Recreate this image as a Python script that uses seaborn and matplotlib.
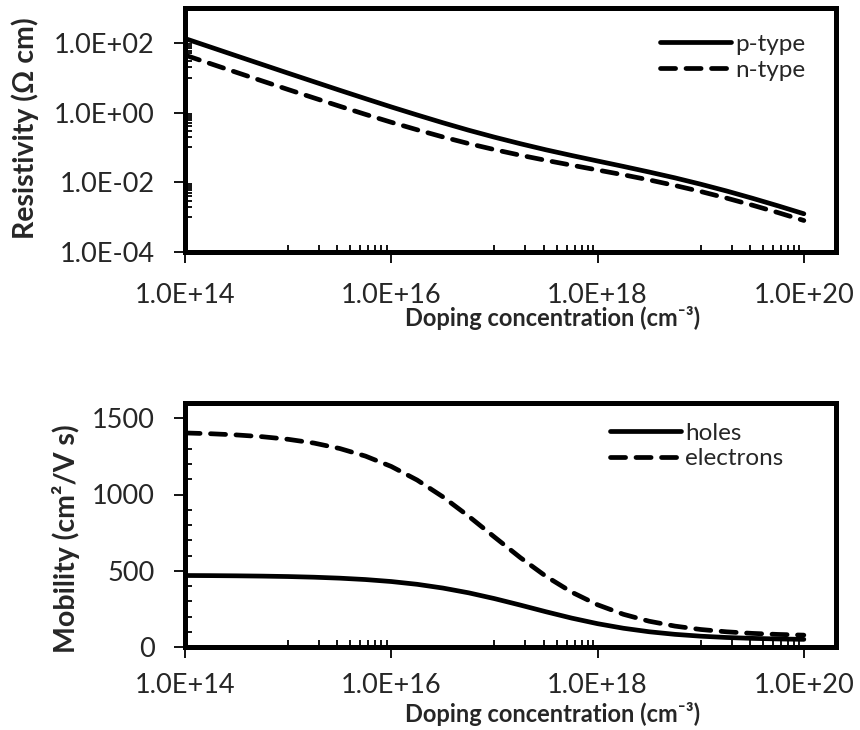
import numpy as np
import pandas as pd
import matplotlib
matplotlib.use("Agg")
import matplotlib.pyplot as plt
import seaborn as sns
from matplotlib.ticker import FixedLocator, FuncFormatter, NullFormatter

# ---- data ----
doping = [1e14, 1.78e14, 3.16e14, 5.62e14, 1e15, 1.78e15, 3.16e15, 5.62e15,
          1e16, 1.78e16, 3.16e16, 5.62e16, 1e17, 1.78e17, 3.16e17, 5.62e17,
          1e18, 1.78e18, 3.16e18, 5.62e18, 1e19, 1.78e19, 3.16e19, 5.62e19, 1e20]

rho_p = [133.1, 75.0, 42.3, 23.9, 13.5, 7.67, 4.37, 2.51,
         1.45, 0.854, 0.511, 0.312, 0.197, 0.128, 0.0854, 0.0586,
         0.0408, 0.0285, 0.0197, 0.0134, 0.00881, 0.00563, 0.00349, 0.00211, 0.00125]
rho_n = [44.5, 25.1, 14.2, 8.05, 4.58, 2.63, 1.52, 0.887,
         0.527, 0.321, 0.200, 0.129, 0.0866, 0.0598, 0.0426, 0.0309,
         0.0225, 0.0164, 0.0117, 0.00810, 0.00544, 0.00352, 0.00221, 0.00135, 0.000802]

mu_holes = [468.8, 468.0, 466.7, 464.8, 462.0, 457.7, 451.4, 442.3,
            429.3, 411.1, 386.6, 355.3, 317.4, 275.0, 231.1, 189.4,
            152.9, 123.0, 100.0, 83.0, 70.9, 62.4, 56.6, 52.7, 50.1]
mu_electrons = [1403.6, 1398.4, 1390.6, 1379.0, 1362.0, 1337.3, 1301.7, 1251.8,
                1183.8, 1094.9, 985.0, 857.8, 721.3, 586.5, 463.5, 359.6,
                276.9, 214.5, 169.1, 137.1, 114.8, 99.6, 89.3, 82.4, 77.8]

res_types = ["p-type", "n-type"]
mob_types = ["holes", "electrons"]
x_major = [1e14, 1e16, 1e18, 1e20]
res_major = [1e-4, 1e-2, 1e0, 1e2]
mob_major = [0, 500, 1000, 1500]

# ---- style ----
sns.set_style("ticks")
plt.rcParams['font.family'] = ['Lato', 'DejaVu Sans']

df_res = pd.DataFrame({
    "N": doping * 2,
    "rho": rho_p + rho_n,
    "type": [res_types[0]] * len(doping) + [res_types[1]] * len(doping),
})
df_mob = pd.DataFrame({
    "N": doping * 2,
    "mu": mu_holes + mu_electrons,
    "type": [mob_types[0]] * len(doping) + [mob_types[1]] * len(doping),
})

fig = plt.figure(figsize=(8.6, 7.3), dpi=100)
ax1 = fig.add_axes([185/860, 1 - 252/730, 651/860, 244/730])
ax2 = fig.add_axes([185/860, 1 - 647/730, 651/860, 244/730])

LW = 3.4
DASH = (3.2, 2.2)
TICK_FS = 19.5
LEG_FS = 17.5

def draw(ax, df, ycol, order):
    sns.lineplot(data=df, x="N", y=ycol, style="type", style_order=order,
                 dashes={order[0]: "", order[1]: DASH}, color="black",
                 linewidth=LW, ax=ax, legend=True)
    for ln in ax.get_lines():
        ln.set_dash_capstyle("round")
        ln.set_solid_capstyle("round")
    leg = ax.get_legend()
    handles = list(leg.legend_handles)
    labels = [t.get_text() for t in leg.get_texts()]
    leg.remove()
    for h in handles:
        h.set_color("black")
        h.set_linewidth(LW)
        h.set_dash_capstyle("round")
        h.set_solid_capstyle("round")
    return handles, labels

def sci(v, pos):
    return f"{v:.1E}"

x_minor = [k * 10.0**e for e in (15, 17, 19) for k in range(1, 10)]

def style_xaxis(ax):
    ax.set_xscale("log")
    ax.set_xlim(1e14, 2.05e20)
    ax.xaxis.set_major_locator(FixedLocator(x_major))
    ax.xaxis.set_minor_locator(FixedLocator(x_minor))
    ax.xaxis.set_major_formatter(FuncFormatter(sci))
    ax.xaxis.set_minor_formatter(NullFormatter())

# top chart
h1, l1 = draw(ax1, df_res, "rho", res_types)
style_xaxis(ax1)
ax1.set_yscale("log")
ax1.set_ylim(1e-4, 1e3)
ax1.yaxis.set_major_locator(FixedLocator(res_major))
ax1.yaxis.set_minor_locator(FixedLocator([k * 10.0**e for e in (-3, -1, 1) for k in range(1, 10)]))
ax1.yaxis.set_major_formatter(FuncFormatter(sci))
ax1.yaxis.set_minor_formatter(NullFormatter())
ax1.legend(h1, l1, loc="upper left", bbox_to_anchor=(0.730, 0.895), frameon=False,
           fontsize=LEG_FS, handlelength=2.9, handletextpad=0.2, labelspacing=0.2,
           borderpad=0, borderaxespad=0)

# bottom chart
h2, l2 = draw(ax2, df_mob, "mu", mob_types)
style_xaxis(ax2)
ax2.set_ylim(0, 1600)
ax2.yaxis.set_major_locator(FixedLocator(mob_major))
ax2.yaxis.set_minor_locator(FixedLocator([v for v in range(100, 1600, 100) if v % 500 != 0]))
ax2.yaxis.set_minor_formatter(NullFormatter())
ax2.legend(h2, l2, loc="upper left", bbox_to_anchor=(0.653, 0.920), frameon=False,
           fontsize=LEG_FS, handlelength=2.9, handletextpad=0.2, labelspacing=0.2,
           borderpad=0, borderaxespad=0)

xl = "Doping concentration (cm\u207B\u00B3)"
ax1.set_xlabel(xl, fontsize=17, fontweight="bold")
ax2.set_xlabel(xl, fontsize=17, fontweight="bold")
ax1.set_ylabel("Resistivity (\u03A9 cm)", fontsize=20.5, fontweight="bold")
ax2.set_ylabel("Mobility (cm\u00B2/V s)", fontsize=20.5, fontweight="bold")

ax1.xaxis.set_label_coords(0.564, -0.270)
ax2.xaxis.set_label_coords(0.564, -0.274)
ax1.yaxis.set_label_coords(-0.246, 0.508)
ax2.yaxis.set_label_coords(-0.183, 0.445)

for ax in (ax1, ax2):
    ax.xaxis.label.set_verticalalignment("center")
    ax.yaxis.label.set_verticalalignment("center")
    ax.yaxis.label.set_horizontalalignment("center")
    for s in ax.spines.values():
        s.set_linewidth(3.6)
        s.set_color("black")
        s.set_visible(True)
    ax.tick_params(axis="both", which="major", direction="out", length=8, width=1.3,
                   labelsize=TICK_FS, color="black", pad=14)
    ax.tick_params(axis="both", which="minor", direction="in", length=5, width=1.3,
                   color="black")
ax2.tick_params(axis="x", which="major", pad=11)

fig.savefig("out.png", dpi=100)
